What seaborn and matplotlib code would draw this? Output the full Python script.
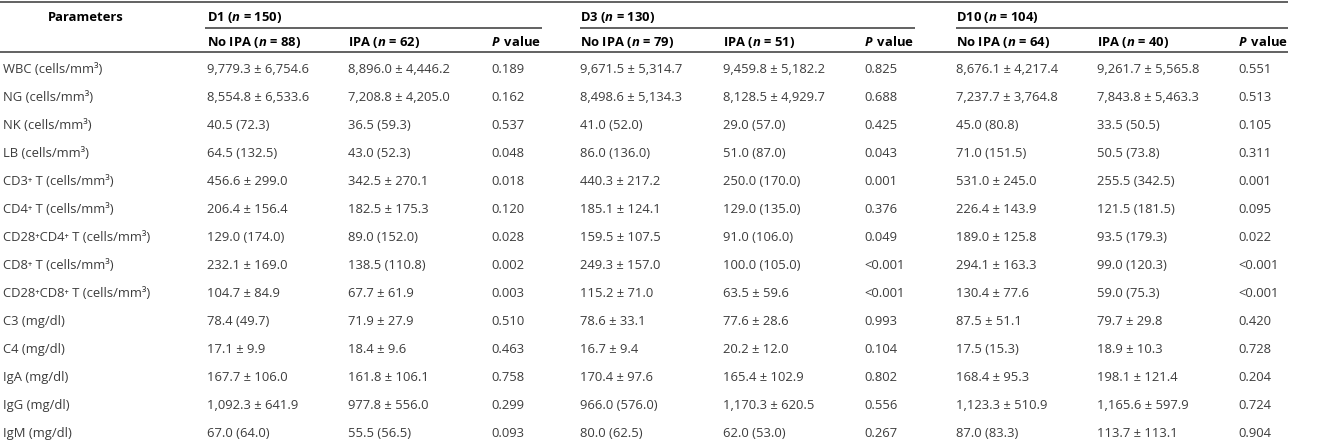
import pandas as pd
import seaborn as sns
import matplotlib.pyplot as plt

# table content
parameters = [
    'WBC (cells/mm³)', 'NG (cells/mm³)', 'NK (cells/mm³)', 'LB (cells/mm³)',
    'CD3⁺ T (cells/mm³)', 'CD4⁺ T (cells/mm³)', 'CD28⁺CD4⁺ T (cells/mm³)',
    'CD8⁺ T (cells/mm³)', 'CD28⁺CD8⁺ T (cells/mm³)',
    'C3 (mg/dl)', 'C4 (mg/dl)', 'IgA (mg/dl)', 'IgG (mg/dl)', 'IgM (mg/dl)',
]
groups = ['D1 ($n$ = 150)', 'D3 ($n$ = 130)', 'D10 ($n$ = 104)']
subheads = [
    ['No IPA ($n$ = 88)', 'IPA ($n$ = 62)', '$P\\,$ value'],
    ['No IPA ($n$ = 79)', 'IPA ($n$ = 51)', '$P\\,$ value'],
    ['No IPA ($n$ = 64)', 'IPA ($n$ = 40)', '$P\\,$ value'],
]

d1_no_ipa = ['9,779.3 ± 6,754.6', '8,554.8 ± 6,533.6', '40.5 (72.3)', '64.5 (132.5)',
             '456.6 ± 299.0', '206.4 ± 156.4', '129.0 (174.0)', '232.1 ± 169.0',
             '104.7 ± 84.9', '78.4 (49.7)', '17.1 ± 9.9', '167.7 ± 106.0',
             '1,092.3 ± 641.9', '67.0 (64.0)']
d1_ipa = ['8,896.0 ± 4,446.2', '7,208.8 ± 4,205.0', '36.5 (59.3)', '43.0 (52.3)',
          '342.5 ± 270.1', '182.5 ± 175.3', '89.0 (152.0)', '138.5 (110.8)',
          '67.7 ± 61.9', '71.9 ± 27.9', '18.4 ± 9.6', '161.8 ± 106.1',
          '977.8 ± 556.0', '55.5 (56.5)']
d1_p = ['0.189', '0.162', '0.537', '0.048', '0.018', '0.120', '0.028', '0.002',
        '0.003', '0.510', '0.463', '0.758', '0.299', '0.093']

d3_no_ipa = ['9,671.5 ± 5,314.7', '8,498.6 ± 5,134.3', '41.0 (52.0)', '86.0 (136.0)',
             '440.3 ± 217.2', '185.1 ± 124.1', '159.5 ± 107.5', '249.3 ± 157.0',
             '115.2 ± 71.0', '78.6 ± 33.1', '16.7 ± 9.4', '170.4 ± 97.6',
             '966.0 (576.0)', '80.0 (62.5)']
d3_ipa = ['9,459.8 ± 5,182.2', '8,128.5 ± 4,929.7', '29.0 (57.0)', '51.0 (87.0)',
          '250.0 (170.0)', '129.0 (135.0)', '91.0 (106.0)', '100.0 (105.0)',
          '63.5 ± 59.6', '77.6 ± 28.6', '20.2 ± 12.0', '165.4 ± 102.9',
          '1,170.3 ± 620.5', '62.0 (53.0)']
d3_p = ['0.825', '0.688', '0.425', '0.043', '0.001', '0.376', '0.049', '<0.001',
        '<0.001', '0.993', '0.104', '0.802', '0.556', '0.267']

d10_no_ipa = ['8,676.1 ± 4,217.4', '7,237.7 ± 3,764.8', '45.0 (80.8)', '71.0 (151.5)',
              '531.0 ± 245.0', '226.4 ± 143.9', '189.0 ± 125.8', '294.1 ± 163.3',
              '130.4 ± 77.6', '87.5 ± 51.1', '17.5 (15.3)', '168.4 ± 95.3',
              '1,123.3 ± 510.9', '87.0 (83.3)']
d10_ipa = ['9,261.7 ± 5,565.8', '7,843.8 ± 5,463.3', '33.5 (50.5)', '50.5 (73.8)',
           '255.5 (342.5)', '121.5 (181.5)', '93.5 (179.3)', '99.0 (120.3)',
           '59.0 (75.3)', '79.7 ± 29.8', '18.9 ± 10.3', '198.1 ± 121.4',
           '1,165.6 ± 597.9', '113.7 ± 113.1']
d10_p = ['0.551', '0.513', '0.105', '0.311', '0.001', '0.095', '0.022', '<0.001',
         '<0.001', '0.420', '0.728', '0.204', '0.724', '0.904']

df = pd.DataFrame({
    'Parameters': parameters,
    'd1_no': d1_no_ipa, 'd1_ipa': d1_ipa, 'd1_p': d1_p,
    'd3_no': d3_no_ipa, 'd3_ipa': d3_ipa, 'd3_p': d3_p,
    'd10_no': d10_no_ipa, 'd10_ipa': d10_ipa, 'd10_p': d10_p,
})

sns.set_theme(style='white')
plt.rcParams['font.family'] = ['Open Sans', 'DejaVu Sans']
plt.rcParams['mathtext.fontset'] = 'custom'
plt.rcParams['mathtext.rm'] = 'Open Sans'
plt.rcParams['mathtext.it'] = 'Open Sans:italic:bold'
plt.rcParams['mathtext.bf'] = 'Open Sans:bold'

W, H = 1326, 446
fig = plt.figure(figsize=(W / 100, H / 100), dpi=100)
ax = fig.add_axes([0, 0, 1, 1])
ax.set_xlim(0, W)
ax.set_ylim(H, 0)
ax.axis('off')

fs = 9.4
body = '#3c3c3c'
line = '#555555'

# layout (pixels); text placed on baselines
col_x = [207, 348, 491, 580, 723, 864, 956, 1097, 1238]
row_y0, row_dy = 68, 28
base = 4.7

# rules
ax.hlines(2, 0, 1288, color=line, lw=1.3)
ax.hlines(52, 0, 1288, color=line, lw=1.3)
for x0, x1 in [(205, 542), (580, 915), (956, 1288)]:
    ax.hlines(28, x0, x1, color=line, lw=1.3)

# headers
ax.text(86, 16 + base, 'Parameters', ha='center', va='baseline', fontsize=fs,
        fontweight='bold', color='black')
for g, name in enumerate(groups):
    ax.text(col_x[3 * g], 16 + base, name, ha='left', va='baseline', fontsize=fs,
            fontweight='bold', color='black')
    for k, sub in enumerate(subheads[g]):
        ax.text(col_x[3 * g + k], 41 + base, sub, ha='left', va='baseline',
                fontsize=fs, fontweight='bold', color='black')

# body
cols = df.columns[1:]
for i, row in df.iterrows():
    y = row_y0 + row_dy * i + base
    ax.text(3, y, row['Parameters'], ha='left', va='baseline', fontsize=fs, color=body)
    for c, x in zip(cols, col_x):
        ax.text(x, y, row[c], ha='left', va='baseline', fontsize=fs, color=body)

fig.savefig('out.png', dpi=100)
